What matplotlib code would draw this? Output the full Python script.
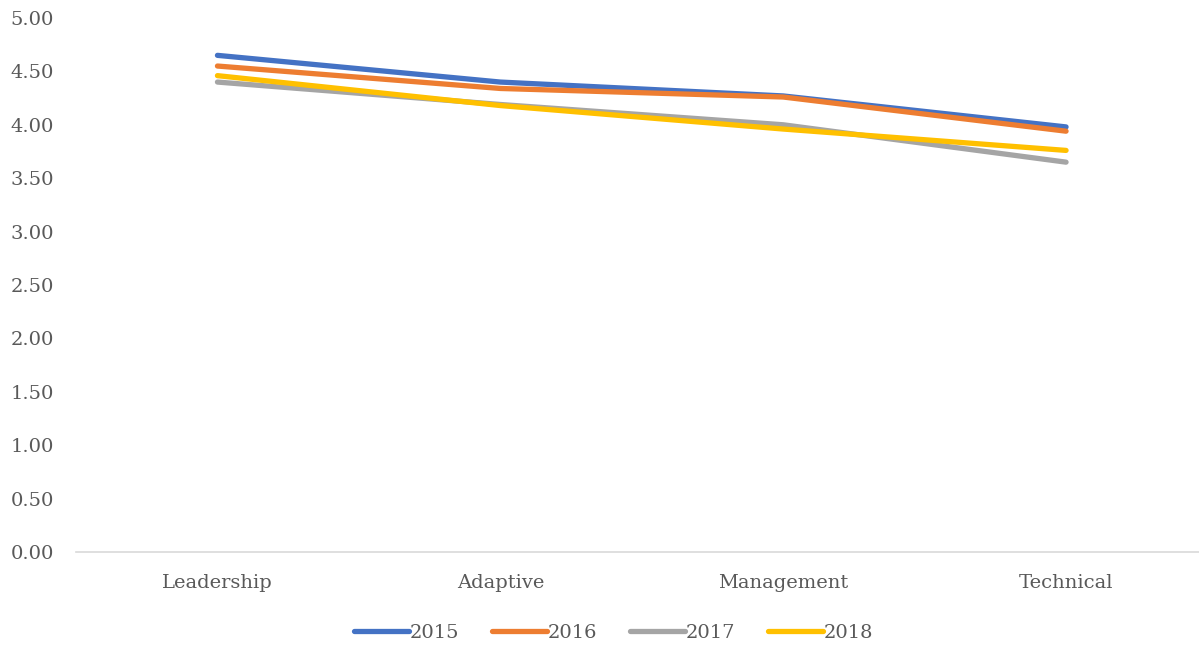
import matplotlib
matplotlib.use("Agg")
import matplotlib.pyplot as plt

categories = ["Leadership", "Adaptive", "Management", "Technical"]
years = ["2015", "2016", "2017", "2018"]
scores_2015 = [4.65, 4.40, 4.27, 3.98]
scores_2016 = [4.55, 4.34, 4.26, 3.94]
scores_2017 = [4.40, 4.19, 4.00, 3.65]
scores_2018 = [4.46, 4.18, 3.96, 3.76]
y_ticks = [0.0, 0.5, 1.0, 1.5, 2.0, 2.5, 3.0, 3.5, 4.0, 4.5, 5.0]

series = [scores_2015, scores_2016, scores_2017, scores_2018]
colors = ["#4472C4", "#ED7D31", "#A5A5A5", "#FFC000"]

plt.rcParams["font.family"] = ["DejaVu Serif"]
text_color = "#595959"

fig = plt.figure(figsize=(11.99, 6.49), dpi=100)
ax = fig.add_axes([0.0634, 0.1495, 0.9366, 0.8228])

x = list(range(len(categories)))
for vals, year, c in zip(series, years, colors):
    ax.plot(x, vals, color=c, lw=3.8, solid_capstyle="round",
            solid_joinstyle="round", label=year)

ax.set_ylim(0, 5)
ax.set_xlim(-0.5, 3.47)
ax.set_yticks(y_ticks)
ax.set_yticklabels([f"{v:.2f}" for v in y_ticks])
ax.set_xticks(x)
ax.set_xticklabels(categories)

for side in ["top", "right", "left"]:
    ax.spines[side].set_visible(False)
ax.spines["bottom"].set_color("#D9D9D9")
ax.spines["bottom"].set_linewidth(1.2)

ax.tick_params(axis="both", length=0, colors=text_color, labelsize=14)
ax.tick_params(axis="x", pad=16)
ax.tick_params(axis="y", pad=16)

leg = fig.legend(loc="center", bbox_to_anchor=(0.512, 0.025), ncol=4,
                 frameon=False, fontsize=14, handlelength=2.8,
                 handletextpad=0.05, columnspacing=1.7)
for t in leg.get_texts():
    t.set_color(text_color)

fig.savefig("out.png", dpi=100)
